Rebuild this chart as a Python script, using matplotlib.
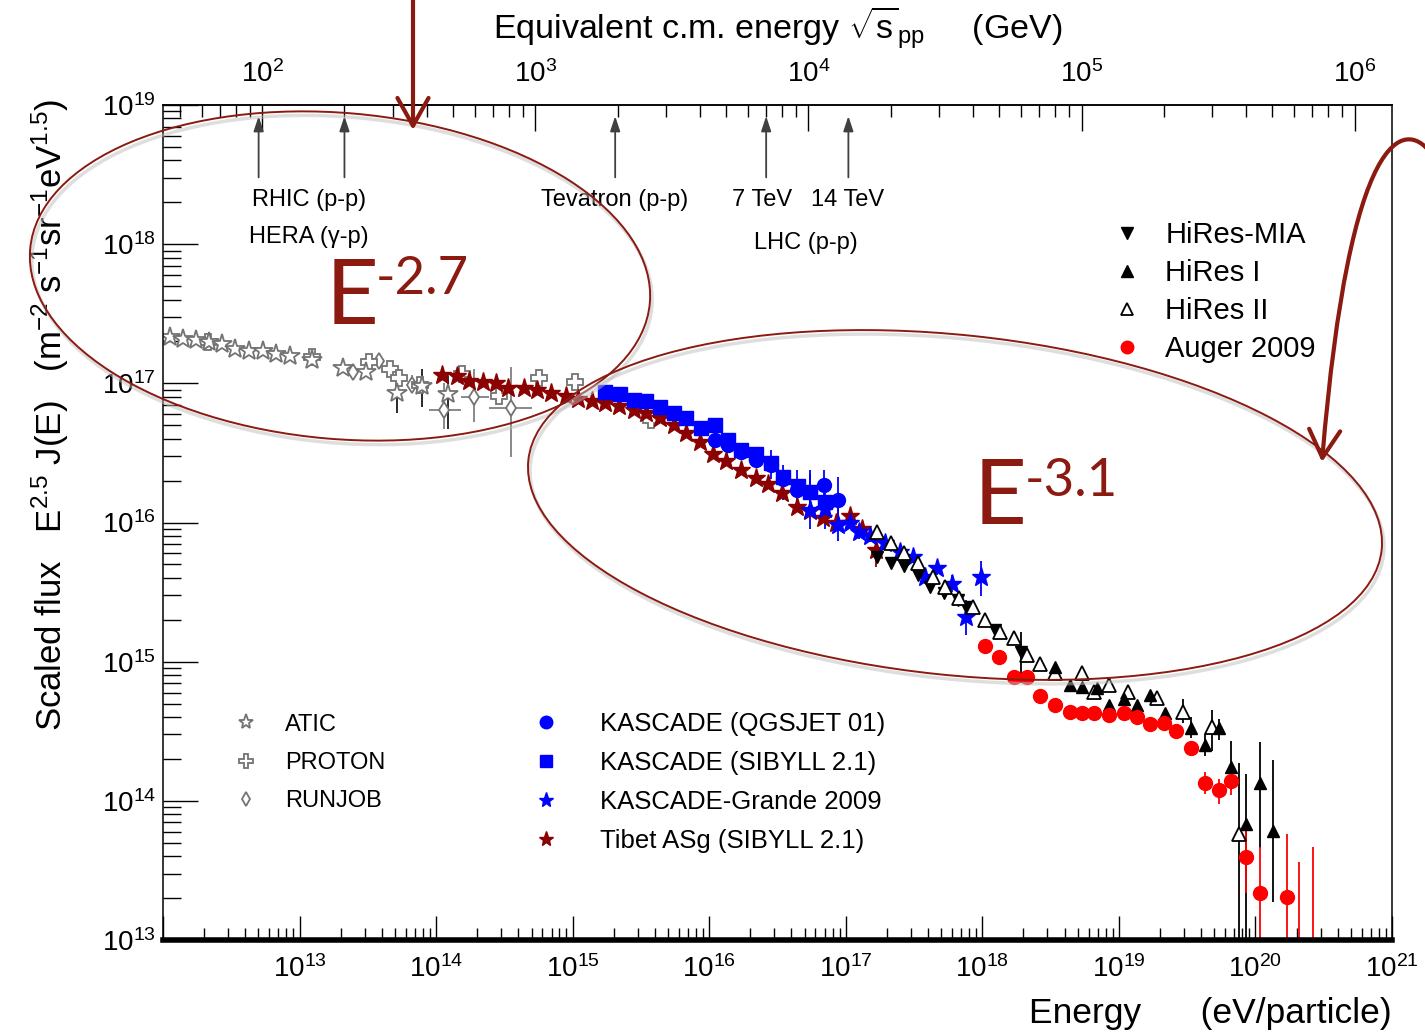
import numpy as np
import matplotlib
matplotlib.use("Agg")
import matplotlib.pyplot as plt
from matplotlib.lines import Line2D
from matplotlib.patches import Ellipse, FancyArrowPatch
from matplotlib.path import Path
from matplotlib.ticker import LogLocator, FuncFormatter

plt.rcParams['font.family'] = ['Liberation Sans', 'DejaVu Sans']
plt.rcParams['mathtext.fontset'] = 'custom'
plt.rcParams['mathtext.rm'] = 'Liberation Sans'
plt.rcParams['mathtext.it'] = 'Liberation Sans:italic'
plt.rcParams['mathtext.bf'] = 'Liberation Sans:bold'

# ---------------------------------------------------------------- data (log10 values)
# ATIC
atic_logE = [12.05, 12.15, 12.24, 12.34, 12.43, 12.53, 12.63, 12.73, 12.83, 12.93, 13.09, 13.32, 13.49, 13.71, 13.90, 14.09]
atic_logF = [17.33, 17.32, 17.31, 17.30, 17.28, 17.25, 17.23, 17.23, 17.21, 17.20, 17.17, 17.11, 17.08, 16.93, 16.98, 16.92]
atic_lo = atic_logF[:13] + [16.79, 16.83, 16.67]
atic_hi = atic_logF[:13] + [17.01, 17.10, 17.05]

# PROTON
proton_logE = [12.33, 13.09, 13.51, 13.66, 13.73, 13.88, 14.19, 14.46, 14.75, 15.02, 15.57]
proton_logF = [17.30, 17.19, 17.15, 17.10, 17.04, 16.99, 17.07, 16.91, 17.04, 17.01, 16.74]

# RUNJOB
runjob_logE = [13.39, 13.58, 13.82, 14.06, 14.28, 14.55]
runjob_logF = [17.08, 17.16, 16.99, 16.81, 16.90, 16.82]
runjob_lo = [17.08, 17.16, 16.93, 16.67, 16.72, 16.47]
runjob_hi = [17.08, 17.16, 17.06, 17.00, 17.10, 17.12]
runjob_xlo = [13.39, 13.58, 13.82, 13.95, 14.18, 14.39]
runjob_xhi = [13.39, 13.58, 13.82, 14.18, 14.39, 14.70]

# Tibet ASg (SIBYLL 2.1)
tibet_logE = [14.04, 14.15, 14.24, 14.34, 14.44, 14.53, 14.64, 14.74, 14.84, 14.95, 15.04, 15.14, 15.24,
              15.34, 15.45, 15.54, 15.64, 15.74, 15.83, 15.93, 16.03, 16.12, 16.23, 16.34, 16.43, 16.53,
              16.64, 16.74, 16.83, 16.93, 17.03, 17.12, 17.22]
tibet_logF = [17.06, 17.05, 17.02, 17.01, 17.00, 16.97, 16.97, 16.95, 16.93, 16.91, 16.89, 16.87, 16.86,
              16.84, 16.81, 16.79, 16.75, 16.70, 16.64, 16.58, 16.49, 16.44, 16.38, 16.32, 16.28, 16.21,
              16.11, 16.08, 16.03, 16.00, 16.05, 15.95, 15.80]
tibet_lo = tibet_logF[:-1] + [15.68]
tibet_hi = tibet_logF[:-1] + [15.95]

# KASCADE (SIBYLL 2.1)
ksib_logE = [15.24, 15.35, 15.45, 15.54, 15.64, 15.74, 15.83, 15.94, 16.04, 16.14, 16.23, 16.34, 16.45,
             16.54, 16.65, 16.74, 16.85]
ksib_logF = [16.94, 16.92, 16.88, 16.87, 16.83, 16.79, 16.75, 16.68, 16.70, 16.59, 16.52, 16.49, 16.43,
             16.33, 16.26, 16.22, 16.15]

# KASCADE (QGSJET 01)
kqgs_logE = [16.04, 16.14, 16.23, 16.34, 16.45, 16.54, 16.64, 16.74, 16.84, 16.94]
kqgs_logF = [16.59, 16.56, 16.51, 16.45, 16.41, 16.31, 16.23, 16.22, 16.27, 16.16]
kqgs_lo = [16.59, 16.56, 16.51, 16.45, 16.31, 16.16, 16.09, 16.05, 16.14, 16.00]
kqgs_hi = [16.59, 16.56, 16.51, 16.45, 16.52, 16.41, 16.38, 16.35, 16.38, 16.33]

# KASCADE-Grande 2009
grande_logE = [16.74, 16.85, 16.94, 17.03, 17.10, 17.18, 17.29, 17.40, 17.49, 17.58, 17.67, 17.78, 17.88, 17.99]
grande_logF = [16.09, 16.10, 15.98, 16.00, 15.93, 15.90, 15.85, 15.79, 15.75, 15.61, 15.67, 15.56, 15.32, 15.61]
grande_lo = [15.95, 15.95, 15.87, 15.95, 15.88, 15.86, 15.81, 15.75, 15.71, 15.56, 15.62, 15.50, 15.19, 15.47]
grande_hi = [16.38, 16.31, 16.12, 16.05, 15.98, 15.94, 15.89, 15.83, 15.79, 15.66, 15.72, 15.62, 15.44, 15.72]

# HiRes-MIA
mia_logE = [17.23, 17.33, 17.43, 17.53, 17.62, 17.72, 17.82, 17.88, 18.09, 18.28]
mia_logF = [15.75, 15.71, 15.69, 15.62, 15.54, 15.49, 15.44, 15.39, 15.23, 15.07]
mia_lo = mia_logF[:-1] + [14.85]
mia_hi = mia_logF[:-1] + [15.21]

# HiRes I
hr1_logE = [18.53, 18.64, 18.73, 18.84, 18.93, 19.04, 19.13, 19.23, 19.34, 19.53, 19.63, 19.73, 19.82,
            19.93, 20.03, 20.13]
hr1_logF = [14.96, 14.83, 14.82, 14.81, 14.69, 14.73, 14.69, 14.76, 14.63, 14.52, 14.40, 14.52, 14.24,
            13.83, 14.13, 13.78]
hr1_lo = hr1_logF[:9] + [14.45, 14.32, 14.44, 14.08, 12.50, 13.66, 13.27]
hr1_hi = hr1_logF[:9] + [14.60, 14.48, 14.59, 14.43, 14.19, 14.42, 14.29]

# HiRes II
hr2_logE = [17.23, 17.33, 17.43, 17.53, 17.64, 17.73, 17.83, 17.93, 18.02, 18.13, 18.23, 18.33, 18.42,
            18.53, 18.73, 18.82, 18.93, 19.07, 19.28, 19.47, 19.68, 19.88]
hr2_logF = [15.93, 15.85, 15.78, 15.71, 15.61, 15.54, 15.46, 15.39, 15.30, 15.21, 15.17, 15.05, 14.98,
            14.92, 14.92, 14.78, 14.83, 14.78, 14.74, 14.64, 14.53, 13.76]
hr2_lo = hr2_logF[:19] + [14.56, 14.36, 12.50]
hr2_hi = hr2_logF[:19] + [14.73, 14.65, 14.27]

# Auger 2009
auger_logE = [18.02, 18.12, 18.23, 18.33, 18.42, 18.53, 18.64, 18.73, 18.82, 18.93, 19.04, 19.13, 19.23,
              19.33, 19.42, 19.53, 19.63, 19.73, 19.82, 19.93, 20.03, 20.23]
auger_logF = [15.11, 15.03, 14.89, 14.89, 14.75, 14.69, 14.64, 14.63, 14.63, 14.62, 14.63, 14.60, 14.55,
              14.56, 14.50, 14.38, 14.13, 14.08, 14.14, 13.60, 13.34, 13.31]
auger_lo = auger_logF[:16] + [14.05, 13.98, 14.04, 13.34, 12.50, 12.50]
auger_hi = auger_logF[:16] + [14.21, 14.16, 14.23, 13.78, 13.67, 13.76]
auger_lim_logE = [20.32, 20.42]
auger_lim_logF = [13.56, 13.67]

# accelerator equivalent energies, sqrt(s) in GeV
acc_sqrts = [97, 200, 1960, 7000, 14000]
M_P = 0.938e9  # eV

DARKRED = '#8B0000'
NOTE = '#8B1A10'

# ---------------------------------------------------------------- figure
fig = plt.figure(figsize=(14.25, 10.33), dpi=100)
ax = fig.add_axes([163 / 1425, 1 - 940 / 1033, 1229 / 1425, 835 / 1033])
ax.set_xscale('log')
ax.set_yscale('log')
ax.set_xlim(1e12, 1e21)
ax.set_ylim(1e13, 1e19)


def series(logE, logF, lo=None, hi=None, xlo=None, xhi=None, ecolor='k', **kw):
    E = 10 ** np.array(logE)
    F = 10 ** np.array(logF)
    yerr = None
    xerr = None
    if lo is not None:
        yerr = [F - 10 ** np.array(lo), 10 ** np.array(hi) - F]
    if xlo is not None:
        xerr = [E - 10 ** np.array(xlo), 10 ** np.array(xhi) - E]
    ax.errorbar(E, F, yerr=yerr, xerr=xerr, ecolor=ecolor, elinewidth=1.3, capsize=0,
                linestyle='none', **kw)


gray = dict(mfc='white', mec='0.45', mew=1.3)
series(runjob_logE, runjob_logF, runjob_lo, runjob_hi, runjob_xlo, runjob_xhi, ecolor='0.5',
       marker='d', ms=8, **gray)
series(proton_logE, proton_logF, marker='P', ms=12, **gray)
series(atic_logE, atic_logF, atic_lo, atic_hi, ecolor='0.1', marker='*', ms=15, **gray)
series(tibet_logE, tibet_logF, tibet_lo, tibet_hi, ecolor=DARKRED, marker='*', ms=14, color=DARKRED)
series(ksib_logE, ksib_logF, marker='s', ms=10, color='blue')
series(kqgs_logE, kqgs_logF, kqgs_lo, kqgs_hi, ecolor='blue', marker='o', ms=10, color='blue')
series(grande_logE, grande_logF, grande_lo, grande_hi, ecolor='blue', marker='*', ms=14, color='blue')
series(mia_logE, mia_logF, mia_lo, mia_hi, marker='v', ms=9, color='k')
series(hr2_logE, hr2_logF, hr2_lo, hr2_hi, marker='^', ms=10, mfc='white', mec='k', mew=1.3)
series(hr1_logE, hr1_logF, hr1_lo, hr1_hi, marker='^', ms=9, color='k')
series(auger_logE, auger_logF, auger_lo, auger_hi, ecolor='red', marker='o', ms=10, color='red')
ax.vlines(10 ** np.array(auger_lim_logE), 10 ** 12.5, 10 ** np.array(auger_lim_logF), color='red', lw=1.3)

# ---------------------------------------------------------------- axes styling
for side in ['left', 'top', 'right']:
    ax.spines[side].set_linewidth(1.1)
ax.spines['bottom'].set_linewidth(4)
ax.tick_params(axis='x', which='major', direction='in', length=17, width=1, labelsize=20, pad=11,
               top=False)
ax.tick_params(axis='x', which='minor', direction='in', length=8.6, width=1, top=False)
ax.tick_params(axis='y', which='major', direction='in', length=25, width=1, labelsize=20, pad=5,
               right=False)
ax.tick_params(axis='y', which='minor', direction='in', length=13, width=1, right=False)
ax.xaxis.set_major_locator(LogLocator(base=10, numticks=20))
ax.xaxis.set_minor_locator(LogLocator(base=10, subs=np.arange(2, 10), numticks=20))
ax.yaxis.set_minor_locator(LogLocator(base=10, subs=np.arange(2, 10), numticks=20))


def pow_label(v, pos):
    p = int(round(np.log10(v)))
    if p <= 12:
        return ''
    return r'$\mathregular{10^{%d}}$' % p


ax.xaxis.set_major_formatter(FuncFormatter(pow_label))


def to_sqrts(E):
    return np.sqrt(2 * M_P * np.clip(E, 1e-30, None)) / 1e9


def from_sqrts(s):
    return (np.asarray(s) * 1e9) ** 2 / (2 * M_P)


sec = ax.secondary_xaxis('top', functions=(to_sqrts, from_sqrts))
sec.tick_params(which='major', direction='in', length=19, width=1, labelsize=20, pad=12)
sec.tick_params(which='minor', direction='in', length=8.6, width=1)
sec.spines['top'].set_linewidth(1.1)

ax.text(0.5, 1 + 77 / 835, r'Equivalent c.m. energy $\sqrt{\mathregular{s}}_{\mathregular{pp}}$     (GeV)',
        transform=ax.transAxes, ha='center', va='center', fontsize=24.5)
ax.text(1.0, -73 / 835, 'Energy      (eV/particle)', transform=ax.transAxes, ha='right', va='center',
        fontsize=25.5)
fig.text(50 / 1425, 1 - 415 / 1033,
         r'Scaled flux   E$^{2.5}$ J(E)   (m$^{-2}$ s$^{-1}$sr$^{-1}$eV$^{1.5}$)',
         rotation=90, ha='center', va='center', fontsize=25)

# accelerator arrows
for s in acc_sqrts:
    ax.annotate('', xy=(from_sqrts(s), 10 ** 18.94), xytext=(from_sqrts(s), 10 ** 18.46),
                arrowprops=dict(arrowstyle='-|>,head_length=0.9,head_width=0.3', color='0.25', lw=1.3))
ax.text(10 ** 13.07, 10 ** 18.32, 'RHIC (p-p)', ha='center', va='center', fontsize=17)
ax.text(10 ** 13.07, 10 ** 18.05, 'HERA (\u03b3-p)', ha='center', va='center', fontsize=17)
ax.text(10 ** 15.31, 10 ** 18.32, 'Tevatron (p-p)', ha='center', va='center', fontsize=17)
ax.text(10 ** 16.39, 10 ** 18.32, '7 TeV', ha='center', va='center', fontsize=17)
ax.text(10 ** 17.01, 10 ** 18.32, '14 TeV', ha='center', va='center', fontsize=17)
ax.text(10 ** 16.71, 10 ** 18.01, 'LHC (p-p)', ha='center', va='center', fontsize=17)

# ---------------------------------------------------------------- legends
def h(label, **kw):
    return Line2D([], [], linestyle='none', label=label, **kw)


leg1 = ax.legend(handles=[h('ATIC', marker='*', ms=11, **gray),
                          h('PROTON', marker='P', ms=10, **gray),
                          h('RUNJOB', marker='d', ms=7, **gray)],
                 loc='upper left', bbox_to_anchor=(0.0578, 0.271), frameon=False, fontsize=17,
                 handlelength=1.0, handletextpad=1.16, labelspacing=0.69, borderpad=0, borderaxespad=0)
ax.add_artist(leg1)
leg2 = ax.legend(handles=[h('KASCADE (QGSJET 01)', marker='o', ms=9, color='blue'),
                          h('KASCADE (SIBYLL 2.1)', marker='s', ms=8, color='blue'),
                          h('KASCADE-Grande 2009', marker='*', ms=11, color='blue'),
                          h('Tibet ASg (SIBYLL 2.1)', marker='*', ms=11, color=DARKRED)],
                 loc='upper left', bbox_to_anchor=(0.301, 0.2725), frameon=False, fontsize=18.5,
                 handlelength=1.0, handletextpad=1.6, labelspacing=0.58, borderpad=0, borderaxespad=0)
ax.add_artist(leg2)
ax.legend(handles=[h('HiRes-MIA', marker='v', ms=8, color='k'),
                   h('HiRes I', marker='^', ms=8, color='k'),
                   h('HiRes II', marker='^', ms=8, mfc='white', mec='k', mew=1.3),
                   h('Auger 2009', marker='o', ms=9, color='red')],
          loc='upper left', bbox_to_anchor=(0.7726, 0.861), frameon=False, fontsize=21,
          handlelength=1.0, handletextpad=0.81, labelspacing=0.34, borderpad=0, borderaxespad=0)

# ---------------------------------------------------------------- overlay annotations (pixel space)
ov = fig.add_axes([0, 0, 1, 1], zorder=10)
ov.set_xlim(0, 1425)
ov.set_ylim(1033, 0)
ov.axis('off')
ov.patch.set_alpha(0)

ellipses = [((340, 276), 622, 326, 5), ((955, 505), 858, 340, 6)]
for (cx, cy), w, hgt, ang in ellipses:
    ov.add_patch(Ellipse((cx + 2, cy + 4), w, hgt, angle=ang, fill=False, ec='0.75', lw=2.5, alpha=0.5))
    ov.add_patch(Ellipse((cx, cy), w, hgt, angle=ang, fill=False, ec=NOTE, lw=1.4))

ov.add_patch(FancyArrowPatch((413, -10), (413, 130), arrowstyle='->,head_length=0.5,head_width=0.28',
                             mutation_scale=40, color=NOTE, lw=3, shrinkA=0, shrinkB=0))
curve = Path([(1430, 152), (1405, 120), (1350, 125), (1322, 462)],
             [Path.MOVETO, Path.CURVE4, Path.CURVE4, Path.CURVE4])
ov.add_patch(FancyArrowPatch(path=curve, arrowstyle='->,head_length=0.5,head_width=0.28',
                             mutation_scale=40, color=NOTE, lw=3))

note_font = ['Lato', 'Liberation Sans']
ov.text(326, 324, 'E', color=NOTE, fontsize=66, family=note_font, ha='left', va='baseline')
ov.text(376, 294, '-2.7', color=NOTE, fontsize=38, family=note_font, ha='left', va='baseline')
ov.text(974, 524, 'E', color=NOTE, fontsize=66, family=note_font, ha='left', va='baseline')
ov.text(1025, 496, '-3.1', color=NOTE, fontsize=38, family=note_font, ha='left', va='baseline')

fig.savefig('out.png', dpi=100)
